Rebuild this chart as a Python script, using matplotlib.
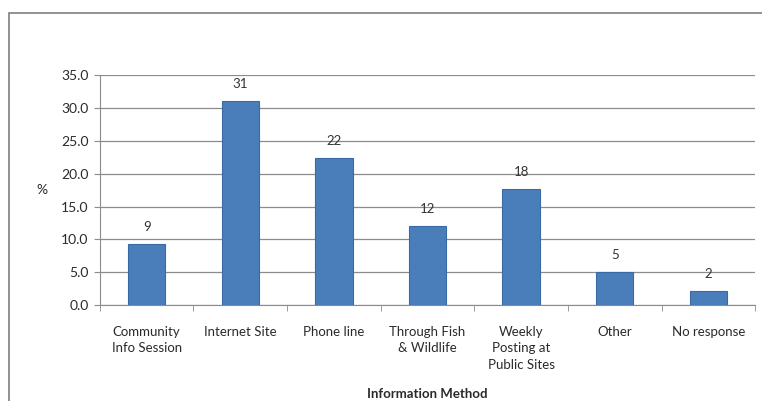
import matplotlib

matplotlib.use('Agg')
import matplotlib.pyplot as plt
from matplotlib.patches import Rectangle

categories = ['Community\nInfo Session', 'Internet Site', 'Phone line',
              'Through Fish\n& Wildlife', 'Weekly\nPosting at\nPublic Sites',
              'Other', 'No response']
percent = [9.3, 31.0, 22.4, 12.0, 17.6, 5.0, 2.1]
yticks = [0, 5, 10, 15, 20, 25, 30, 35]

plt.rcParams['font.family'] = ['Lato', 'DejaVu Sans']

fig = plt.figure(figsize=(7.62, 4.01), dpi=100)
ax = fig.add_axes([0.131, 0.239, 0.86, 0.574])

# outer chart border
fig.add_artist(Rectangle((0.0118, -0.05), 1.2, 1.018, transform=fig.transFigure,
                         fill=False, edgecolor='#7f7f7f', linewidth=1.2))

x = range(len(categories))
bars = ax.bar(x, percent, width=0.4, color='#4a7ebb', edgecolor='#3b6aa3', linewidth=0.8,
              zorder=3)
for rect, val in zip(bars, percent):
    ax.annotate(f'{val:.0f}', (rect.get_x() + rect.get_width() / 2, rect.get_height()),
                xytext=(0, 8), textcoords='offset points', ha='center', va='bottom',
                fontsize=9.5, color='#333333')

ax.set_xlim(-0.5, len(categories) - 0.5)
ax.set_ylim(0, 35)
ax.set_yticks(yticks)
ax.set_yticklabels([f'{t:.1f}' for t in yticks], fontsize=10, color='#2a2a2a')
ax.yaxis.grid(True, color='#8c8c8c', linewidth=0.9, zorder=0)
ax.set_axisbelow(True)

ax.set_xticks(list(x))
ax.set_xticklabels(categories, fontsize=9.5, color='#2a2a2a', linespacing=1.45)
ax.tick_params(axis='x', length=0, pad=15)
ax.set_xticks([i + 0.5 for i in range(-1, len(categories))], minor=True)
ax.tick_params(axis='x', which='minor', length=4, color='#8c8c8c')
ax.tick_params(axis='y', length=4, color='#8c8c8c', pad=4)

for side in ['top', 'right']:
    ax.spines[side].set_visible(False)
ax.spines['left'].set_color('#8c8c8c')
ax.spines['bottom'].set_color('#8c8c8c')

ax.set_ylabel('%', fontsize=10, rotation=0, labelpad=14, va='center', color='#2a2a2a')
ax.set_xlabel('Information Method', fontsize=9.5, fontweight='bold', color='#2a2a2a',
              labelpad=12)

fig.savefig('out.png', dpi=100, facecolor='white')
plt.close(fig)
